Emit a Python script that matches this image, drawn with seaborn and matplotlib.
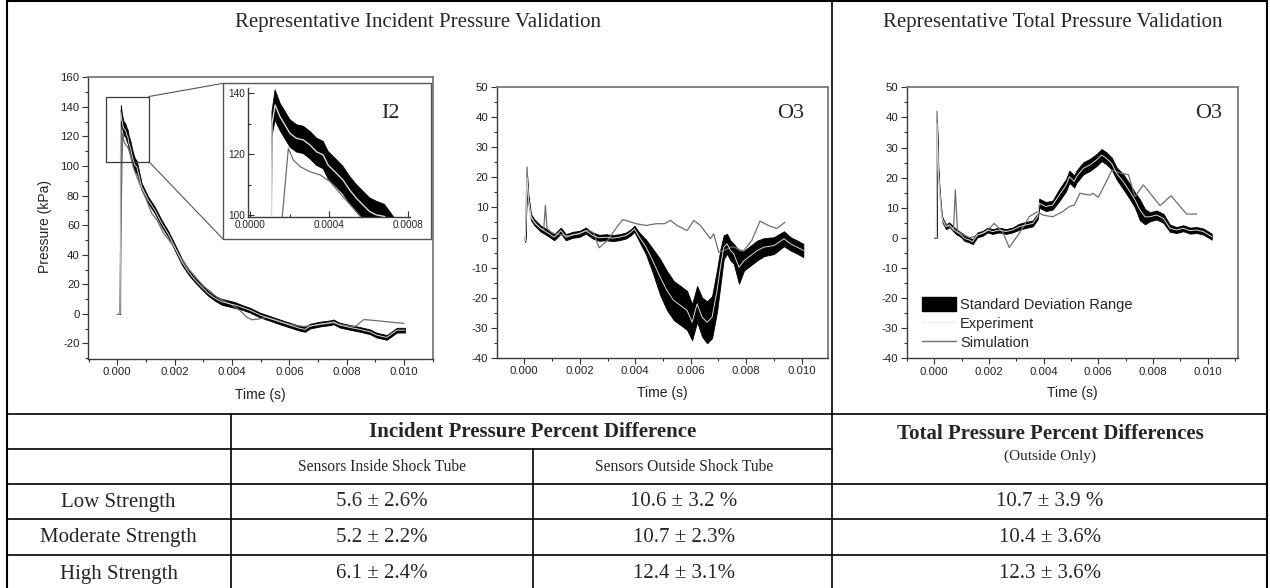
import numpy as np
import pandas as pd
import matplotlib
matplotlib.use("Agg")
import matplotlib.pyplot as plt
import seaborn as sns
from matplotlib.patches import Rectangle, Patch, ConnectionPatch
from matplotlib.lines import Line2D
from matplotlib.ticker import FixedLocator, FormatStrFormatter

# ---------------- data ----------------
# Panel 1 : incident pressure, sensor I2
i2_t = [0.0, 0.0001, 0.00011, 0.000126, 0.000151, 0.000176, 0.000202, 0.000235, 0.000269, 0.000303,
        0.000336, 0.00037, 0.000395, 0.000437, 0.00047, 0.000504, 0.000538, 0.000571, 0.000605, 0.000639,
        0.00068, 0.00085, 0.00108, 0.00131, 0.00155, 0.00178, 0.00201, 0.00225, 0.00248, 0.00271,
        0.00294, 0.00317, 0.00341, 0.00364, 0.00387, 0.0041, 0.00434, 0.00463, 0.00498, 0.00533,
        0.00567, 0.00602, 0.00637, 0.00655, 0.00672, 0.00707, 0.00742, 0.00754, 0.00776, 0.00811,
        0.00846, 0.00881, 0.00905, 0.0094, 0.00975, 0.01003]
i2_exp = [0, 0, 130, 136.2, 132.3, 129.6, 126.8, 125.2, 124.7, 123.0,
          120.8, 119.7, 116.4, 113.7, 111.5, 108.2, 105.5, 103.3, 101.1, 100.0,
          99.5, 86, 77, 70.2, 61.2, 54, 45, 35.3, 28.5, 22.9,
          18.3, 13.9, 10.5, 8.2, 7.1, 6.0, 4.5, 2.5, -0.8, -3.1,
          -5.4, -7.6, -9.8, -10.5, -8.3, -6.9, -6.0, -5.4, -7.6, -9.1,
          -10.5, -12.1, -14.4, -15.9, -11.0, -11.0]
i2_sd = [0, 0, 4, 5, 4.5, 4.5, 4.5, 4.5, 4.5, 4.5,
         4.5, 4.5, 4.5, 4.5, 4.5, 4.5, 4.5, 4.5, 4.5, 4.5,
         4.0, 2.4, 2.2, 2.2, 2.2, 2.0, 2.0, 2.0, 1.8, 1.6,
         1.6, 1.6, 1.6, 2.0, 2.0, 2.0, 1.6, 1.6, 1.6, 1.6,
         1.6, 1.6, 1.6, 1.6, 1.6, 1.6, 1.6, 1.6, 1.6, 1.6,
         1.6, 1.6, 1.6, 1.6, 1.6, 1.6]
i2_sim_t = [0.0, 0.00008, 0.000163, 0.000193, 0.000218, 0.000252, 0.000303, 0.000353, 0.000403, 0.00047,
            0.000538, 0.000571, 0.0008, 0.001, 0.0012, 0.0014, 0.0016, 0.0018, 0.002, 0.0022,
            0.0025, 0.003, 0.0035, 0.004, 0.0043, 0.0045, 0.0047, 0.0049, 0.0052, 0.0055,
            0.006, 0.0065, 0.007, 0.0075, 0.008, 0.0083, 0.0086, 0.009, 0.0095, 0.01]
i2_sim = [0, 0, 100, 121.9, 118.1, 115.9, 114.2, 113.2, 111.0, 106.0,
          101.1, 98.4, 87, 78, 68, 63, 55, 50, 45, 38,
          30, 19, 11, 6, 2, -2, -4, -3.5, -2.5, -4,
          -7, -8.5, -7.5, -6, -8, -8.5, -3.8, -4.5, -5.5, -6.4]

# Panel 2 : incident pressure, sensor O3
o3i_t = [0, 0.00004, 0.0001, 0.000145, 0.00024, 0.00036, 0.00048, 0.0006, 0.00072, 0.0009,
         0.00108, 0.00132, 0.0015, 0.00174, 0.00198, 0.00222, 0.00246, 0.0027, 0.00294, 0.00318,
         0.00343, 0.00367, 0.00385, 0.00397, 0.00415, 0.00439, 0.00463, 0.0049, 0.00514, 0.00539,
         0.00563, 0.00587, 0.00605, 0.00623, 0.00641, 0.00659, 0.00677, 0.00695, 0.00707, 0.00719,
         0.00731, 0.00743, 0.00755, 0.00774, 0.00792, 0.00816, 0.0084, 0.00864, 0.009, 0.00936,
         0.0096, 0.00984, 0.01006]
o3i_exp = [0, -1, 20, 13.5, 6.8, 5.1, 4.0, 2.9, 2.3, 1.2,
           0.1, 2.3, 0.1, 0.9, 1.2, 2.3, 0.7, -0.1, 0.1, -0.2,
           0.1, 0.7, 1.8, 2.9, 0.1, -3.2, -7.7, -13.2, -17.6, -21.0,
           -22.6, -24.3, -28.2, -22.1, -26.5, -28.2, -26.5, -17.6, -9.9, -3.2,
           -2.1, -4.3, -5.4, -9.9, -7.7, -6.0, -4.3, -3.2, -2.7, -0.4,
           -2.1, -3.2, -4.3]
o3i_sd = [0, 0.5, 1, 1, 1, 1, 1, 1, 1, 1,
          1, 1, 1, 1, 1, 1, 1, 1, 1, 1,
          1, 1, 1, 1, 1.5, 2.5, 4, 6, 6.5, 6.5,
          6.5, 6.5, 6, 6, 6.5, 7, 7, 7, 6, 4,
          3.3, 3.3, 3.3, 5.5, 3.3, 3.3, 3.3, 3, 2.8, 2.5,
          2.2, 2.2, 2.2]
o3i_sim_t = [0, 0.00004, 0.0001, 0.00015, 0.00025, 0.0004, 0.0006, 0.0007, 0.00076, 0.00082,
             0.001, 0.0013, 0.0016, 0.002, 0.0023, 0.0025, 0.0027, 0.003, 0.0033, 0.00355,
             0.00403, 0.00439, 0.00475, 0.00505, 0.00527, 0.00551, 0.00587, 0.00611, 0.00635, 0.00671,
             0.00683, 0.00701, 0.00719, 0.0075, 0.0079, 0.0082, 0.0085, 0.0088, 0.0091, 0.0094]
o3i_sim = [0, -1, 23.5, 12, 7, 4.5, 3, 2.5, 10.7, 3,
           1.5, 1, 0.5, 1.5, 2.5, 1.5, -3.4, -1, 3, 6,
           4.6, 4, 4.6, 4.6, 5.7, 4, 2.3, 5.7, 4, -0.4,
           1.2, -4.9, -4.3, -3, -4.5, -1, 5.5, 4, 3, 5.1]

# Panel 3 : total pressure, sensor O3
o3t_t = [0, 0.00008, 0.0001, 0.000146, 0.00018, 0.00024, 0.0003, 0.00043, 0.00055, 0.00067,
         0.00079, 0.00098, 0.0011, 0.00128, 0.0014, 0.00158, 0.00177, 0.00195, 0.00213, 0.00238,
         0.00262, 0.00286, 0.00311, 0.00335, 0.0036, 0.00378, 0.00384, 0.00408, 0.00433, 0.00457,
         0.00482, 0.00494, 0.00512, 0.0052, 0.00545, 0.00569, 0.00594, 0.00612, 0.0063, 0.00649,
         0.00667, 0.00691, 0.00716, 0.00734, 0.00752, 0.00771, 0.00789, 0.00813, 0.00838, 0.00862,
         0.00886, 0.00911, 0.00935, 0.0096, 0.00984, 0.01015]
o3t_exp = [0, 0, 38, 22.5, 17, 9.3, 5.9, 3.7, 4.3, 3.2,
           2.1, 1.0, -0.2, -0.7, -1.3, 1.0, 1.5, 2.6, 2.1, 2.6,
           2.1, 2.6, 3.7, 4.3, 4.8, 7.1, 11.5, 10.4, 10.9, 14.2,
           17.5, 20.3, 18.7, 20.3, 23.1, 24.2, 25.9, 27.5, 26.4, 24.7,
           21.4, 18.7, 15.3, 12.6, 9.3, 7.0, 7.0, 7.6, 6.5, 3.2,
           2.6, 3.2, 2.4, 2.6, 2.1, 0.4]
o3t_sd = [0, 0, 1, 1, 1, 0.8, 0.8, 0.8, 0.8, 0.8,
          0.8, 0.8, 0.8, 0.8, 0.8, 0.8, 0.8, 0.8, 0.8, 0.8,
          0.8, 0.8, 1, 1, 1, 1, 1.5, 1.5, 1.5, 2,
          2, 2, 2, 2, 2, 2, 2, 2, 2, 2,
          2, 2.5, 2.5, 2.5, 3.5, 2.5, 1.5, 1.5, 1.5, 1.2,
          1, 1, 1, 1, 1, 1]
o3t_sim_t = [0, 0.00008, 0.0001, 0.00015, 0.0003, 0.0005, 0.0007, 0.00077, 0.00085, 0.001,
             0.0013, 0.0016, 0.0019, 0.00219, 0.0025, 0.00274, 0.00311, 0.00347, 0.00378, 0.00396,
             0.00433, 0.0047, 0.00494, 0.00512, 0.00533, 0.00569, 0.0058, 0.006, 0.0063, 0.0065,
             0.00685, 0.0071, 0.00734, 0.00765, 0.00826, 0.00866, 0.00923, 0.0096]
o3t_sim = [0, 0, 42, 22, 6, 4, 2.5, 15.9, 2, 1.5,
           0, 1, 2, 4.8, 2, -3.2, 1.5, 7, 8.7, 7.6,
           7, 8.7, 10.4, 10.9, 14.8, 14.2, 14.8, 13.5, 18.8, 22.5,
           21.4, 21, 13.7, 17.6, 10.7, 14, 7.9, 7.9]

# axis ticks
time_ticks = [0.0, 0.002, 0.004, 0.006, 0.008, 0.010]
time_minor = [-0.001, 0.001, 0.003, 0.005, 0.007, 0.009, 0.011]
inset_xticks = [0.0, 0.0004, 0.0008]
inset_xminor = [0.0002, 0.0006]
inset_yticks = [100, 120, 140]
inset_yminor = [110, 130]

# table contents
titles = ["Representative Incident Pressure Validation", "Representative Total Pressure Validation"]
row_labels = ["Low Strength", "Moderate Strength", "High Strength"]
inside_vals = ["5.6 \u00b1 2.6%", "5.2 \u00b1 2.2%", "6.1 \u00b1 2.4%"]
outside_vals = ["10.6 \u00b1 3.2 %", "10.7 \u00b1 2.3%", "12.4 \u00b1 3.1%"]
total_vals = ["10.7 \u00b1 3.9 %", "10.4 \u00b1 3.6%", "12.3 \u00b1 3.6%"]

# ---------------- figure ----------------
sns.set_style("ticks")
plt.rcParams['font.family'] = ['Liberation Sans', 'DejaVu Sans']
SERIF = ['Liberation Serif', 'DejaVu Serif']

W, H = 1270, 588
fig = plt.figure(figsize=(12.7, 5.88), dpi=100)
fig.patch.set_facecolor('white')


def fx(x):
    return x / W


def fy(y):
    return 1 - y / H


def rect(l, t, r, b):
    return [fx(l), fy(b), fx(r) - fx(l), fy(t) - fy(b)]


ax1 = fig.add_axes(rect(88, 77.3, 433, 359))
ax2 = fig.add_axes(rect(496.7, 87.3, 828.3, 357.7))
ax3 = fig.add_axes(rect(906.7, 87.3, 1237.7, 358.3))
axi = fig.add_axes(rect(248.3, 88.3, 410, 217.3))

SIM_C = '#6e6e6e'
EXP_C = '#dadada'


def draw(ax, t, p, sd, st, sp, lw_exp=0.7):
    t = np.asarray(t, float)
    p = np.asarray(p, float)
    sd = np.asarray(sd, float)
    ax.fill_between(t, p - sd, p + sd, facecolor='black', edgecolor='black', lw=0.6, zorder=2)
    sns.lineplot(x=np.asarray(st, float), y=np.asarray(sp, float), ax=ax, color=SIM_C, lw=0.9,
                 estimator=None, sort=False, zorder=3)
    sns.lineplot(x=t, y=p, ax=ax, color=EXP_C, lw=lw_exp, estimator=None, sort=False, zorder=4)


draw(ax1, i2_t, i2_exp, i2_sd, i2_sim_t, i2_sim)
draw(ax2, o3i_t, o3i_exp, o3i_sd, o3i_sim_t, o3i_sim)
draw(ax3, o3t_t, o3t_exp, o3t_sd, o3t_sim_t, o3t_sim)
draw(axi, i2_t, i2_exp, i2_sd, i2_sim_t, i2_sim, lw_exp=1.0)


def style(ax, xlim, ylim, yt, ym, xt=time_ticks, xm=time_minor, fmt='%.3f', lsize=8.2, frame=True,
          direction='out'):
    ax.set_xlim(*xlim)
    ax.set_ylim(*ylim)
    ax.xaxis.set_major_locator(FixedLocator(xt))
    ax.xaxis.set_minor_locator(FixedLocator(xm))
    ax.yaxis.set_major_locator(FixedLocator(yt))
    ax.yaxis.set_minor_locator(FixedLocator(ym))
    ax.xaxis.set_major_formatter(FormatStrFormatter(fmt))
    ax.yaxis.set_major_formatter(FormatStrFormatter('%d'))
    ax.tick_params(which='both', direction=direction, top=False, right=False, color='#333333',
                   width=0.8, labelsize=lsize, labelcolor='#222222', pad=2)
    ax.tick_params(which='major', length=4)
    ax.tick_params(which='minor', length=2.3)
    for name, s in ax.spines.items():
        s.set_color('#3a3a3a' if name in ('left', 'bottom') else '#7a7a7a')
        s.set_linewidth(1.0 if name in ('left', 'bottom') else 1.3)
        if not frame and name in ('top', 'right'):
            s.set_visible(False)
    ax.set_xlabel('')
    ax.set_ylabel('')
    ax.set_facecolor('none')


style(ax1, (-0.00102, 0.01101), (-30.5, 160), list(range(-20, 161, 20)), list(range(-30, 161, 10)))
style(ax2, (-0.000995, 0.01096), (-40, 50), list(range(-40, 51, 10)), list(range(-40, 51, 5)))
style(ax3, (-0.00101, 0.0111), (-40, 50), list(range(-40, 51, 10)), list(range(-40, 51, 5)))
style(axi, (-0.00001, 0.00081), (99.2, 141.7), inset_yticks, inset_yminor, xt=inset_xticks,
      xm=inset_xminor, fmt='%.4f', lsize=7.2, frame=False, direction='in')

# zoom box and connectors
ax1.add_patch(Rectangle((-0.0004, 103), 0.0015, 44, fill=False, ec='#3a3a3a', lw=0.9, zorder=5))
fig.add_artist(Rectangle((fx(223.3), fy(239.3)), fx(431) - fx(223.3), fy(83.3) - fy(239.3),
                         transform=fig.transFigure, fill=False, ec='#555555', lw=1.0))
for yd, yf in ((147, 83.3), (103, 239.3)):
    fig.add_artist(ConnectionPatch(xyA=(0.0011, yd), coordsA=ax1.transData,
                                   xyB=(fx(223.3), fy(yf)), coordsB=fig.transFigure,
                                   color='#555555', lw=0.8))

# panel labels
fig.text(fx(390), fy(113), "I2", family=SERIF, fontsize=16, ha='center', va='center')
fig.text(fx(791), fy(114), "O3", family=SERIF, fontsize=16, ha='center', va='center')
fig.text(fx(1209), fy(113), "O3", family=SERIF, fontsize=16, ha='center', va='center')

# axis labels
fig.text(fx(45), fy(227), "Pressure (kPa)", rotation=90, fontsize=10, ha='center', va='center', color='#222222')
for xc, yc in ((260.5, 395), (662.5, 393), (1072, 393)):
    fig.text(fx(xc), fy(yc), "Time (s)", fontsize=10, ha='center', va='center', color='#222222')

# legend
handles = [Patch(facecolor='black', edgecolor='black'),
           Line2D([], [], color='#eeeeee', lw=1.0),
           Line2D([], [], color=SIM_C, lw=1.0)]
ax3.legend(handles, ["Standard Deviation Range", "Experiment", "Simulation"], loc='lower left',
           bbox_to_anchor=(0.045, 0.03), frameon=False, fontsize=10.5, handlelength=2.35,
           handleheight=1.05, handletextpad=0.3, labelspacing=0.3, borderpad=0, borderaxespad=0)

# titles
fig.text(fx(418), fy(22), titles[0], family=SERIF, fontsize=15, ha='center', va='center')
fig.text(fx(1053), fy(22), titles[1], family=SERIF, fontsize=15, ha='center', va='center')


# ---------------- frame and table ----------------
def hline(y, x0, x1, lw=1.2):
    fig.add_artist(Line2D([fx(x0), fx(x1)], [fy(y), fy(y)], transform=fig.transFigure, color='black', lw=lw))


def vline(x, y0, y1, lw=1.2):
    fig.add_artist(Line2D([fx(x), fx(x)], [fy(y0), fy(y1)], transform=fig.transFigure, color='black', lw=lw))


XL, XR, XD = 6.5, 1267, 832.5
vline(XL, 0, 588, 1.5)
vline(XR, 0, 588, 1.5)
hline(1, XL, XR, 1.5)
vline(XD, 0, 588)
hline(414, XL, XR)
hline(449, XL, XD)
hline(484.3, XL, XR)
hline(519.3, XL, XR)
hline(555, XL, XR)
vline(231, 414, 588)
vline(533, 449, 588)

fig.text(fx(533), fy(432), "Incident Pressure Percent Difference", family=SERIF, fontsize=15,
         fontweight='bold', ha='center', va='center')
fig.text(fx(1050), fy(434), "Total Pressure Percent Differences", family=SERIF, fontsize=15,
         fontweight='bold', ha='center', va='center')
fig.text(fx(1050), fy(456), "(Outside Only)", family=SERIF, fontsize=11, ha='center', va='center')
fig.text(fx(382), fy(467), "Sensors Inside Shock Tube", family=SERIF, fontsize=11.2, ha='center', va='center')
fig.text(fx(684), fy(467), "Sensors Outside Shock Tube", family=SERIF, fontsize=11.2, ha='center', va='center')

for yc, lab, a, b, c in zip((502, 537.5, 574), row_labels, inside_vals, outside_vals, total_vals):
    fig.text(fx(118.7), fy(yc), lab, family=SERIF, fontsize=15, ha='center', va='center')
    fig.text(fx(382), fy(yc), a, family=SERIF, fontsize=15, ha='center', va='center')
    fig.text(fx(684), fy(yc), b, family=SERIF, fontsize=15, ha='center', va='center')
    fig.text(fx(1050), fy(yc), c, family=SERIF, fontsize=15, ha='center', va='center')

fig.savefig("out.png", dpi=100, facecolor='white')
